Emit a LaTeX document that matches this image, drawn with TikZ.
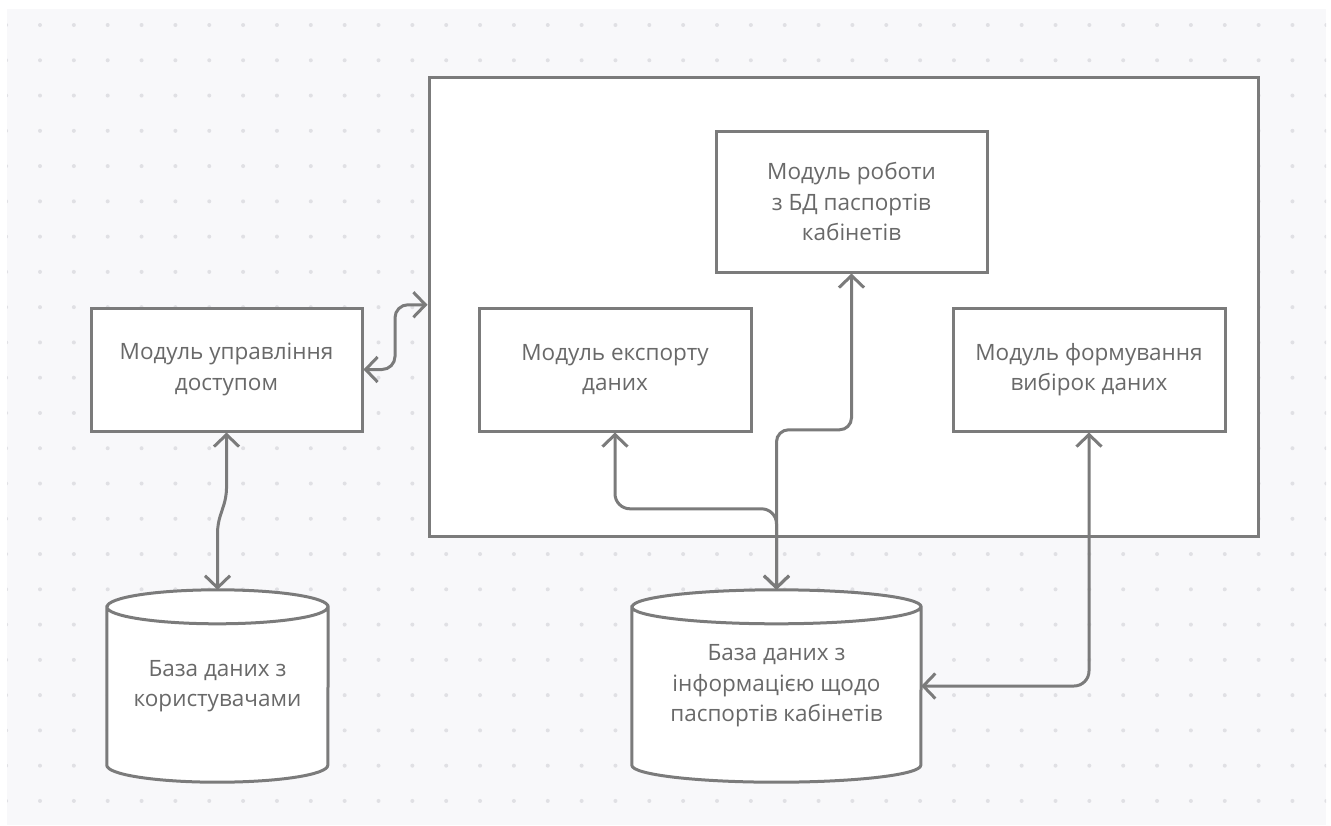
\documentclass[tikz,border=0pt]{standalone}
\usepackage{fontspec}
\setmainfont{Open Sans}
\usetikzlibrary{arrows.meta,calc}
\pgfdeclarelayer{canvas}
\pgfdeclarelayer{bg}
\pgfsetlayers{canvas,bg,main}

\definecolor{paper}{HTML}{F8F8FA}
\definecolor{dotc}{HTML}{E0E0E4}
\definecolor{ink}{HTML}{7B7B7B}
\definecolor{txt}{HTML}{696969}

\tikzset{
  label font/.style={font=\fontsize{22.5}{30.5}\selectfont},
  module/.style={draw=ink, line width=3pt, fill=white, text=txt, align=center,
    label font, inner sep=0pt},
  dbnode/.style={text=txt, align=center, label font, inner sep=0pt},
  dbshape/.style={draw=ink, line width=3pt, fill=white},
  link/.style={draw=ink, line width=3pt,
    {Straight Barb[length=12pt,width=25pt]}-{Straight Barb[length=12pt,width=25pt]}},
}

\begin{document}
\begin{tikzpicture}[x=1pt,y=1pt]
\useasboundingbox (0,0) rectangle (1331,-825);

% dotted canvas
\begin{pgfonlayer}{canvas}
  \fill[paper] (7,-9) rectangle (1326,-825);
  \begin{scope}
    \clip (7,-9) rectangle (1326,-825);
    \foreach \i in {0,...,39}
      \foreach \j in {0,...,22}
        \fill[dotc] ({6.15+33.85*\i},{-25-35.27*\j}) circle[radius=2];
  \end{scope}
\end{pgfonlayer}

% system frame and modules
\node[module, minimum width=829pt, minimum height=458.5pt] (sys) at (843.5,-306.75) {};
\node[module, minimum width=271pt, minimum height=141pt] (topm) at (851.5,-201.5)
  {Модуль роботи\\з БД паспортів\\кабінетів};
\node[module, minimum width=271pt, minimum height=123pt] (acc) at (226.5,-369.5)
  {Модуль управління\\доступом};
\node[module, minimum width=272pt, minimum height=123pt] (exp) at (615,-369.5)
  {Модуль експорту\\даних};
\node[module, minimum width=272pt, minimum height=123pt] (form) at (1089,-369.5)
  {Модуль формування\\вибірок даних};

% databases
\node[dbnode, minimum width=221pt, minimum height=192pt] (dbu) at (217.5,-686)
  {База даних з\\користувачами};
\node[dbnode, minimum width=289pt, minimum height=192pt] (dbr) at (776.5,-686)
  {База даних з\\інформацією щодо\\паспортів кабінетів};

% cylinder outlines behind the database labels
\begin{pgfonlayer}{bg}
  \foreach \c/\rx in {dbu/110.5, dbr/144.5} {
    \path[dbshape]
      ($(\c.north west)+(0,-17)$) -- ($(\c.south west)+(0,17)$)
      arc[start angle=180, end angle=360, x radius=\rx, y radius=17]
      -- ($(\c.north east)+(0,-17)$)
      arc[start angle=0, end angle=180, x radius=\rx, y radius=17] -- cycle
      ($(\c.north west)+(0,-17)$)
      arc[start angle=180, end angle=360, x radius=\rx, y radius=17];
  }
\end{pgfonlayer}

% connectors
\draw[link, rounded corners=13pt] (acc.east) -| (395,-340) |- ([yshift=2pt]sys.west);
\draw[link, rounded corners=8pt] (acc.south) -- ++(0,-64) -- ++(-9,-28) -- (dbu.north);
\draw[link, rounded corners=15pt] (exp.south) |- ([yshift=81pt]dbr.north) -- (dbr.north);
\draw[link, rounded corners=12pt] (topm.south) |- ([yshift=160pt]dbr.north) -- (dbr.north);
\draw[link, rounded corners=15pt] (form.south) |- (dbr.east);
\end{tikzpicture}
\end{document}
